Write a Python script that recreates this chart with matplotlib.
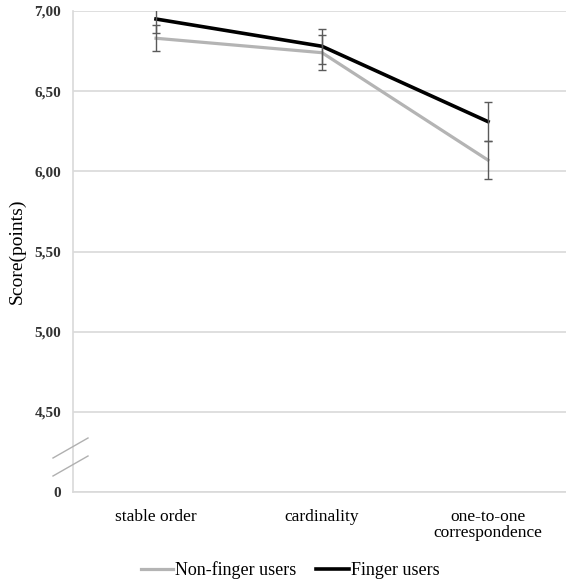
import numpy as np
from matplotlib import pyplot as plt
from matplotlib.lines import Line2D

categories = ['stable order', 'cardinality', 'one-to-one\ncorrespondence']
non_finger = [6.83, 6.74, 6.07]
non_finger_err = [0.08, 0.11, 0.12]
finger = [6.95, 6.78, 6.31]
finger_err = [0.09, 0.11, 0.12]
y_ticks = [4.0, 4.5, 5.0, 5.5, 6.0, 6.5, 7.0]
y_labels = ['0', '4,50', '5,00', '5,50', '6,00', '6,50', '7,00']


def main():
    plt.rcParams['font.family'] = ['Liberation Serif', 'DejaVu Serif']
    fig = plt.figure(figsize=(5.66, 5.81), dpi=100)
    ax = fig.add_axes([73 / 566, 89 / 581, 498 / 566, 481 / 581])

    x = np.arange(len(categories))
    ax.plot(x, non_finger, color='#b4b4b4', lw=2.3, label='Non-finger users', zorder=3)
    ax.plot(x, finger, color='black', lw=2.6, label='Finger users', zorder=4)
    ax.errorbar(x, non_finger, yerr=non_finger_err, fmt='none', ecolor='#5a5a5a',
                elinewidth=1, capsize=3, capthick=1, zorder=5)
    ax.errorbar(x, finger, yerr=finger_err, fmt='none', ecolor='#5a5a5a',
                elinewidth=1, capsize=3, capthick=1, zorder=5)

    ax.set_xlim(-0.5, 2.5)
    ax.set_ylim(4.0, 7.0)
    ax.set_yticks(y_ticks)
    ax.set_yticklabels(y_labels, fontsize=11, fontweight='bold', color='#333333')
    ax.set_xticks(x)
    ax.set_xticklabels(categories, fontsize=12.5, linespacing=1.05)
    ax.tick_params(length=0)
    ax.tick_params(axis='y', pad=8.5)
    ax.tick_params(axis='x', pad=12)
    ax.grid(axis='y', color='#d9d9d9', lw=1.2)
    ax.set_axisbelow(True)
    for s in ['top', 'right']:
        ax.spines[s].set_visible(False)
    for s in ['left', 'bottom']:
        ax.spines[s].set_color('#d9d9d9')
        ax.spines[s].set_linewidth(1.2)
    ax.set_ylabel('Score(points)', fontsize=14)
    ax.yaxis.set_label_coords(-47 / 498, 0.5)

    # axis break marks
    for dy in (0, 18):
        fig.add_artist(Line2D([53 / 566, 88 / 566],
                              [(581 - 458 - dy) / 581, (581 - 438 - dy) / 581],
                              color='#b0b0b0', lw=1))

    fig.legend(loc='center', bbox_to_anchor=(290 / 566, 11 / 581), ncol=2, frameon=False,
               fontsize=13, handlelength=1.8, handletextpad=0.1, columnspacing=1.1)
    fig.savefig('out.png', dpi=100)


if __name__ == '__main__':
    main()
